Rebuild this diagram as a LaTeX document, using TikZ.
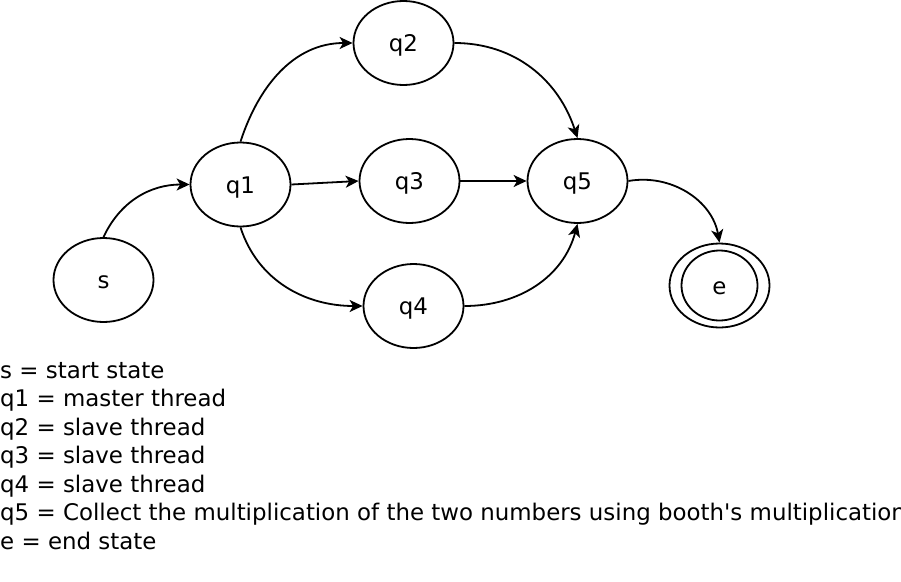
\documentclass[tikz,border=0pt]{standalone}
\usepackage{fontspec}
\setmainfont{DejaVu Sans}
\usetikzlibrary{shapes.geometric,arrows.meta}
\tikzset{
  st/.style={ellipse, draw, line width=1.8pt, minimum width=100pt, minimum height=84pt, inner sep=0pt, text height=17pt, text depth=0pt, font=\fontsize{22.9}{28.5}\selectfont},
  edge/.style={line width=1.8pt, -{Stealth[length=13pt,width=12pt,inset=3.5pt]}},
}
\begin{document}
\begin{tikzpicture}[x=1pt,y=-1pt]
\useasboundingbox (0,0) rectangle (901,581);
\clip (0,0) rectangle (901,581);
\node[st] (s) at (103.5,280) {s};
\node[st] (q1) at (240.5,184.5) {q1};
\node[st] (q2) at (403.5,43) {q2};
\node[st] (q3) at (409.5,181) {q3};
\node[st] (q4) at (413.5,306) {q4};
\node[st] (q5) at (577.5,181) {q5};
\node[st] (e) at (719.5,285.5) {e};
\node[ellipse, draw, line width=1.8pt, minimum width=76pt, minimum height=70pt, inner sep=0pt] (ein) at (e.center) {};
\draw[edge] (s.north) to[out=65,in=180] (q1.west);
\draw[edge] (q1.north) to[out=72,in=180] (q2.west);
\draw[edge] (q2.east) to[out=0,in=108] (q5.north);
\draw[edge] (q1.east) -- (q3.west);
\draw[edge] (q3.east) -- (q5.west);
\draw[edge] (q1.south) to[out=-72,in=180] (q4.west);
\draw[edge] (q4.east) to[out=0,in=-105] (q5.south);
\draw[edge] (q5.east) to[out=10,in=100] (e.north);
\node[anchor=base west, inner sep=0pt, align=left, font=\fontsize{22.9}{28.5}\selectfont] (legend) at (0,549) {s = start state\\
q1 = master thread\\
q2 = slave thread\\
q3 = slave thread\\
q4 = slave thread\\
q5 = Collect the multiplication of the two numbers using booth\textquotesingle s multiplication\\
e = end state};
\end{tikzpicture}
\end{document}
